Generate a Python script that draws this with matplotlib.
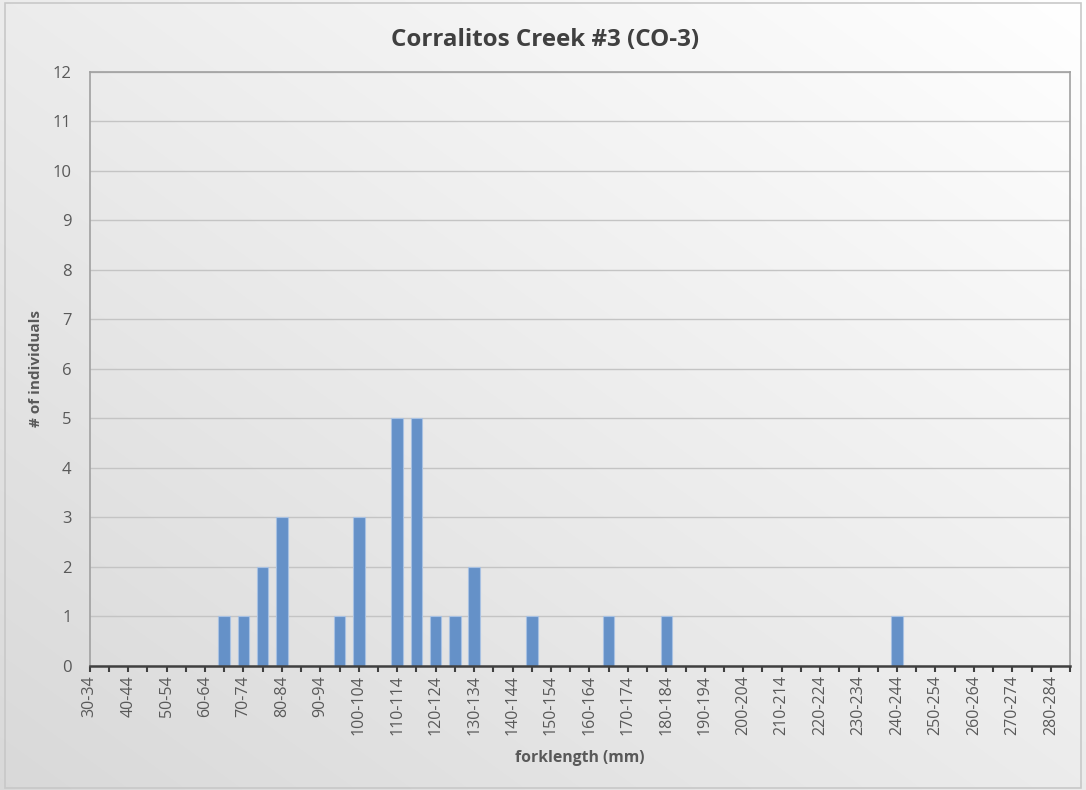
import numpy as np
import matplotlib.pyplot as plt
from matplotlib.patches import Rectangle

# forklength bins (mm), 5 mm wide
bin_starts = list(range(30, 290, 5))
bin_labels = [f"{b}-{b + 4}" for b in bin_starts]

# number of fish per bin
counts = [0, 0, 0, 0, 0, 0, 0, 1, 1, 2,
          3, 0, 0, 1, 3, 0, 5, 5, 1, 1,
          2, 0, 0, 1, 0, 0, 0, 1, 0, 0,
          1, 0, 0, 0, 0, 0, 0, 0, 0, 0,
          0, 0, 1, 0, 0, 0, 0, 0, 0, 0,
          0, 0]

title = "Corralitos Creek #3 (CO-3)"
xlabel = "forklength (mm)"
ylabel = "# of individuals"

plt.rcParams['font.family'] = ['Open Sans', 'DejaVu Sans']
text_color = '#595959'

fig = plt.figure(figsize=(10.86, 7.9), dpi=100)

# soft diagonal gradient behind everything
bg = fig.add_axes([0, 0, 1, 1], zorder=0)
u = np.linspace(0, 1, 400)
v = np.linspace(1, 0, 300)
U, V = np.meshgrid(u, v)
t = (U + V) / 2
shade = 0.85 + 0.15 * t
bg.imshow(np.dstack([shade, shade, shade]), aspect='auto', extent=[0, 1, 0, 1],
          interpolation='bicubic')
bg.set_xlim(0, 1)
bg.set_ylim(0, 1)
bg.axis('off')
bg.add_patch(Rectangle((0.0045, 0.003), 0.991, 0.993, fill=False,
                       edgecolor='#c8c8c8', linewidth=1.2))

ax = fig.add_axes([0.0826, 0.1573, 0.9027, 0.7516], zorder=1)
ax.patch.set_alpha(0)

x = np.arange(len(bin_labels))
ax.bar(x, counts, width=0.6, color='#6591c8', edgecolor='#a8c1e2',
       linewidth=0.8, zorder=3)

ax.set_xlim(0, len(bin_labels) - 1)
ax.set_ylim(0, 12)
ax.set_yticks(range(0, 13))
ax.yaxis.grid(True, color='#c4c4c4', linewidth=1, zorder=1)
ax.set_axisbelow(True)

ax.set_xticks(x)
ax.set_xticklabels([lab if i % 2 == 0 else '' for i, lab in enumerate(bin_labels)],
                   rotation=90, fontsize=11.5, color=text_color)
ax.tick_params(axis='x', length=4, width=1.5, color='#404040', pad=3)
ax.tick_params(axis='y', length=0, pad=13, labelsize=12, labelcolor=text_color)

for side in ['top', 'right', 'left']:
    ax.spines[side].set_color('#a0a0a0')
    ax.spines[side].set_linewidth(1.2)
ax.spines['bottom'].set_color('#404040')
ax.spines['bottom'].set_linewidth(1.8)
ax.spines['bottom'].set_zorder(4)

fig.text(0.502, 0.949, title, ha='center', va='center', fontsize=17.4,
         fontweight='bold', color='#404040')
fig.text(0.534, 0.0405, xlabel, ha='center', va='center', fontsize=11.3,
         fontweight='bold', color=text_color)
fig.text(0.033, 0.533, ylabel, ha='center', va='center', rotation=90,
         fontsize=11, fontweight='bold', color=text_color)

fig.savefig('out.png', dpi=100)
